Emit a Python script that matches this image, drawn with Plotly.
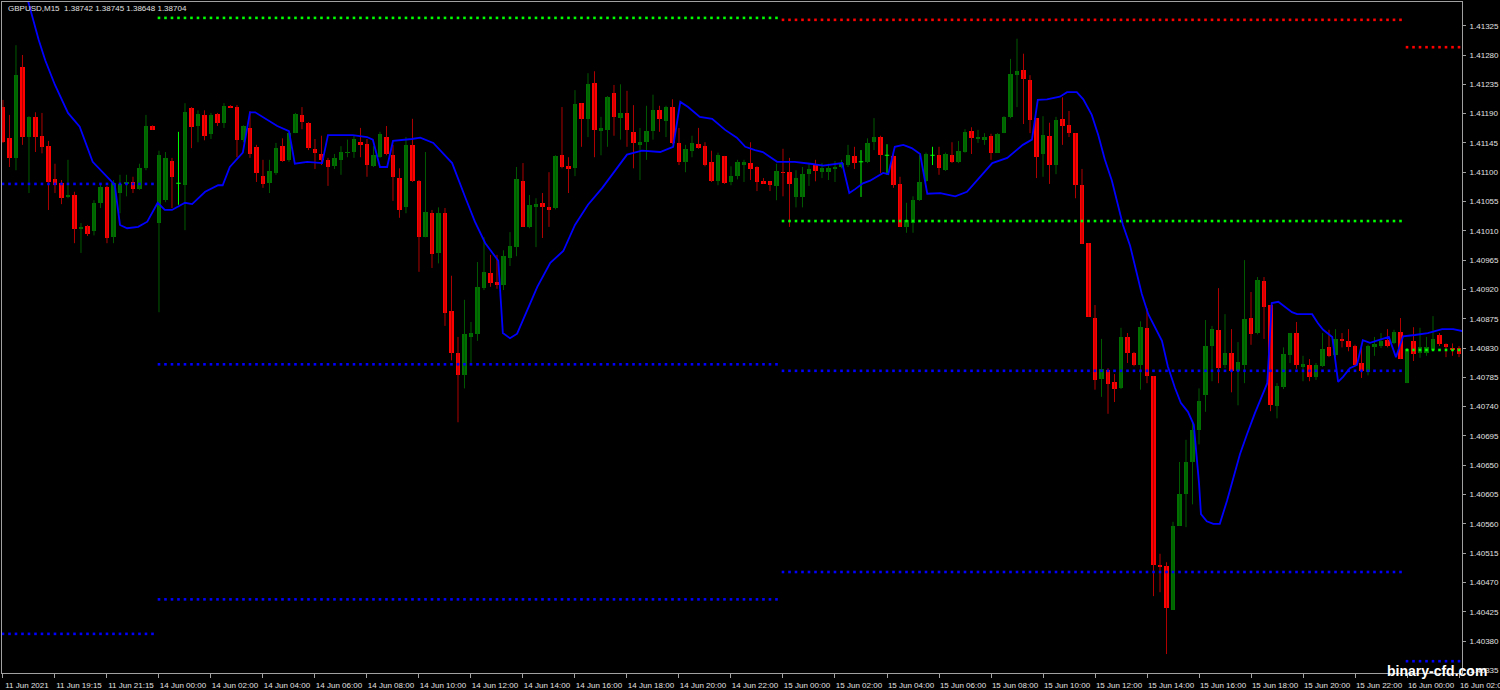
import plotly.graph_objects as go

# ---------------- data (GBPUSD M15) ----------------
open_ = [1.41200, 1.41152, 1.41122, 1.41262, 1.41154, 1.41185, 1.41156, 1.41140, 1.41089, 1.41083,
         1.41062, 1.41065, 1.41013, 1.41017, 1.41010, 1.41053, 1.41077, 1.41000, 1.41068, 1.41082,
         1.41085, 1.41074, 1.41106, 1.41171, 1.41022, 1.41057, 1.41117, 1.41083, 1.41080, 1.41199,
         1.41171, 1.41188, 1.41159, 1.41189, 1.41176, 1.41202, 1.41200, 1.41150, 1.41168, 1.41139,
         1.41094, 1.41083, 1.41099, 1.41140, 1.41119, 1.41160, 1.41188, 1.41176, 1.41136, 1.41128,
         1.41119, 1.41109, 1.41119, 1.41130, 1.41131, 1.41146, 1.41143, 1.41109, 1.41123, 1.41154,
         1.41126, 1.41091, 1.41046, 1.41142, 1.41086, 1.41000, 1.41037, 1.40976, 1.41037, 1.40887,
         1.40822, 1.40788, 1.40847, 1.40851, 1.40922, 1.40945, 1.40931, 1.40927, 1.40968, 1.40985,
         1.41086, 1.41016, 1.41048, 1.41053, 1.41046, 1.41045, 1.41126, 1.41109, 1.41106, 1.41206,
         1.41182, 1.41237, 1.41163, 1.41165, 1.41222, 1.41183, 1.41191, 1.41162, 1.41142, 1.41146,
         1.41163, 1.41196, 1.41179, 1.41200, 1.41145, 1.41116, 1.41133, 1.41143, 1.41140, 1.41116,
         1.41086, 1.41125, 1.41085, 1.41094, 1.41111, 1.41114, 1.41108, 1.41086, 1.41086, 1.41079,
         1.41100, 1.41100, 1.41062, 1.41062, 1.41097, 1.41111, 1.41100, 1.41100, 1.41105, 1.41108,
         1.41111, 1.41125, 1.41116, 1.41116, 1.41146, 1.41154, 1.41126, 1.41125, 1.41082, 1.41016,
         1.41022, 1.41057, 1.41086, 1.41126, 1.41126, 1.41103, 1.41126, 1.41116, 1.41131, 1.41163,
         1.41151, 1.41150, 1.41156, 1.41130, 1.41160, 1.41185, 1.41249, 1.41257, 1.41242, 1.41183,
         1.41128, 1.41156, 1.41111, 1.41182, 1.41172, 1.41160, 1.41080, 1.40991, 1.40876, 1.40782,
         1.40796, 1.40778, 1.40768, 1.40847, 1.40822, 1.40804, 1.40861, 1.40787, 1.40497, 1.40495,
         1.40428, 1.40557, 1.40606, 1.40655, 1.40704, 1.40758, 1.40833, 1.40858, 1.40804, 1.40822,
         1.40795, 1.40804, 1.40876, 1.40853, 1.40933, 1.40896, 1.40741, 1.40770, 1.40819, 1.40853,
         1.40802, 1.40804, 1.40785, 1.40802, 1.40831, 1.40819, 1.40844, 1.40841, 1.40833, 1.40807,
         1.40793, 1.40833, 1.40833, 1.40842, 1.40838, 1.40854, 1.40776, 1.40841, 1.40822, 1.40822,
         1.40827, 1.40850, 1.40836, 1.40830, 1.40830]

high_ = [1.41211, 1.41188, 1.41295, 1.41280, 1.41186, 1.41192, 1.41191, 1.41148, 1.41113, 1.41088,
         1.41119, 1.41070, 1.41022, 1.41019, 1.41057, 1.41083, 1.41079, 1.41088, 1.41096, 1.41096,
         1.41093, 1.41113, 1.41188, 1.41172, 1.41133, 1.41131, 1.41122, 1.41162, 1.41206, 1.41200,
         1.41195, 1.41195, 1.41191, 1.41191, 1.41206, 1.41203, 1.41203, 1.41172, 1.41194, 1.41142,
         1.41119, 1.41119, 1.41145, 1.41152, 1.41162, 1.41191, 1.41200, 1.41177, 1.41151, 1.41156,
         1.41122, 1.41128, 1.41140, 1.41150, 1.41157, 1.41168, 1.41151, 1.41140, 1.41162, 1.41171,
         1.41142, 1.41106, 1.41154, 1.41182, 1.41088, 1.41131, 1.41042, 1.41046, 1.41045, 1.40941,
         1.40847, 1.40904, 1.40870, 1.40962, 1.41000, 1.40973, 1.40973, 1.40980, 1.41008, 1.41108,
         1.41114, 1.41065, 1.41060, 1.41068, 1.41100, 1.41126, 1.41200, 1.41123, 1.41226, 1.41206,
         1.41252, 1.41255, 1.41185, 1.41217, 1.41234, 1.41235, 1.41225, 1.41203, 1.41168, 1.41202,
         1.41219, 1.41202, 1.41202, 1.41212, 1.41168, 1.41142, 1.41156, 1.41168, 1.41146, 1.41133,
         1.41130, 1.41125, 1.41109, 1.41119, 1.41119, 1.41146, 1.41109, 1.41091, 1.41086, 1.41113,
         1.41136, 1.41122, 1.41103, 1.41108, 1.41114, 1.41119, 1.41114, 1.41113, 1.41117, 1.41119,
         1.41142, 1.41139, 1.41134, 1.41152, 1.41183, 1.41156, 1.41143, 1.41131, 1.41093, 1.41053,
         1.41063, 1.41126, 1.41130, 1.41139, 1.41139, 1.41130, 1.41146, 1.41148, 1.41166, 1.41169,
         1.41165, 1.41160, 1.41159, 1.41160, 1.41186, 1.41274, 1.41305, 1.41282, 1.41249, 1.41183,
         1.41186, 1.41176, 1.41185, 1.41215, 1.41194, 1.41160, 1.41105, 1.40991, 1.40896, 1.40844,
         1.40799, 1.40790, 1.40861, 1.40853, 1.40824, 1.40871, 1.40891, 1.40787, 1.40514, 1.40501,
         1.40563, 1.40655, 1.40689, 1.40715, 1.40768, 1.40873, 1.40864, 1.40922, 1.40882, 1.40859,
         1.40839, 1.40965, 1.40916, 1.40939, 1.40939, 1.40896, 1.40776, 1.40831, 1.40853, 1.40870,
         1.40818, 1.40813, 1.40807, 1.40853, 1.40858, 1.40859, 1.40853, 1.40859, 1.40835, 1.40831,
         1.40835, 1.40847, 1.40853, 1.40859, 1.40858, 1.40876, 1.40830, 1.40862, 1.40861, 1.40847,
         1.40879, 1.40853, 1.40837, 1.40837, 1.40833]

low_ = [1.41145, 1.41108, 1.41103, 1.41142, 1.41068, 1.41131, 1.41129, 1.41042, 1.41068, 1.41051,
        1.41060, 1.40991, 1.40976, 1.41002, 1.41003, 1.41045, 1.40991, 1.40991, 1.41037, 1.41063,
        1.41068, 1.41073, 1.41103, 1.41165, 1.40885, 1.41054, 1.41045, 1.41050, 1.41011, 1.41137,
        1.41146, 1.41149, 1.41151, 1.41171, 1.41168, 1.41199, 1.41123, 1.41146, 1.41122, 1.41085,
        1.41076, 1.41068, 1.41096, 1.41116, 1.41116, 1.41160, 1.41166, 1.41134, 1.41105, 1.41111,
        1.41079, 1.41105, 1.41096, 1.41123, 1.41122, 1.41123, 1.41093, 1.41108, 1.41122, 1.41126,
        1.41056, 1.41030, 1.41037, 1.41085, 1.40947, 1.41000, 1.40953, 1.40960, 1.40864, 1.40811,
        1.40716, 1.40768, 1.40807, 1.40841, 1.40919, 1.40924, 1.40921, 1.40919, 1.40956, 1.40971,
        1.41016, 1.41014, 1.40985, 1.40999, 1.41016, 1.41043, 1.41106, 1.41068, 1.41094, 1.41139,
        1.41154, 1.41123, 1.41126, 1.41139, 1.41156, 1.41150, 1.41139, 1.41106, 1.41088, 1.41119,
        1.41150, 1.41162, 1.41154, 1.41143, 1.41111, 1.41100, 1.41123, 1.41136, 1.41109, 1.41085,
        1.41080, 1.41082, 1.41080, 1.41089, 1.41085, 1.41088, 1.41071, 1.41082, 1.41071, 1.41057,
        1.41063, 1.41016, 1.41046, 1.41046, 1.41079, 1.41086, 1.41091, 1.41088, 1.41085, 1.41106,
        1.41108, 1.41105, 1.41062, 1.41114, 1.41134, 1.41099, 1.41096, 1.41076, 1.41016, 1.41007,
        1.41007, 1.41056, 1.41085, 1.41111, 1.41096, 1.41102, 1.41114, 1.41114, 1.41130, 1.41128,
        1.41145, 1.41142, 1.41119, 1.41130, 1.41160, 1.41183, 1.41200, 1.41174, 1.41160, 1.41091,
        1.41093, 1.41082, 1.41097, 1.41142, 1.41154, 1.41060, 1.40990, 1.40878, 1.40766, 1.40755,
        1.40729, 1.40747, 1.40767, 1.40807, 1.40802, 1.40766, 1.40776, 1.40449, 1.40455, 1.40360,
        1.40428, 1.40557, 1.40555, 1.40590, 1.40682, 1.40732, 1.40779, 1.40776, 1.40799, 1.40762,
        1.40742, 1.40776, 1.40835, 1.40851, 1.40844, 1.40733, 1.40722, 1.40767, 1.40807, 1.40798,
        1.40779, 1.40779, 1.40781, 1.40801, 1.40816, 1.40816, 1.40831, 1.40825, 1.40804, 1.40784,
        1.40788, 1.40818, 1.40830, 1.40831, 1.40836, 1.40813, 1.40776, 1.40810, 1.40815, 1.40818,
        1.40827, 1.40833, 1.40816, 1.40818, 1.40816]

close_ = [1.41146, 1.41122, 1.41249, 1.41154, 1.41185, 1.41154, 1.41139, 1.41085, 1.41080, 1.41060,
          1.41065, 1.41013, 1.41016, 1.41005, 1.41053, 1.41077, 1.40999, 1.41083, 1.41082, 1.41085,
          1.41074, 1.41106, 1.41171, 1.41165, 1.41126, 1.41122, 1.41093, 1.41083, 1.41192, 1.41169,
          1.41189, 1.41156, 1.41188, 1.41176, 1.41202, 1.41200, 1.41150, 1.41171, 1.41128, 1.41099,
          1.41082, 1.41102, 1.41137, 1.41117, 1.41160, 1.41189, 1.41177, 1.41137, 1.41130, 1.41119,
          1.41108, 1.41122, 1.41131, 1.41131, 1.41151, 1.41142, 1.41111, 1.41126, 1.41159, 1.41128,
          1.41093, 1.41042, 1.41142, 1.41086, 1.41000, 1.41039, 1.40974, 1.41037, 1.40884, 1.40822,
          1.40788, 1.40851, 1.40853, 1.40924, 1.40947, 1.40930, 1.40927, 1.40971, 1.40987, 1.41089,
          1.41016, 1.41050, 1.41051, 1.41046, 1.41043, 1.41125, 1.41108, 1.41105, 1.41205, 1.41182,
          1.41235, 1.41165, 1.41168, 1.41215, 1.41185, 1.41191, 1.41165, 1.41145, 1.41146, 1.41163,
          1.41196, 1.41182, 1.41200, 1.41145, 1.41116, 1.41136, 1.41145, 1.41137, 1.41111, 1.41086,
          1.41126, 1.41083, 1.41094, 1.41116, 1.41116, 1.41105, 1.41085, 1.41083, 1.41080, 1.41102,
          1.41099, 1.41082, 1.41091, 1.41097, 1.41105, 1.41102, 1.41106, 1.41106, 1.41108, 1.41114,
          1.41126, 1.41114, 1.41116, 1.41145, 1.41154, 1.41126, 1.41126, 1.41080, 1.41016, 1.41027,
          1.41057, 1.41085, 1.41128, 1.41126, 1.41106, 1.41128, 1.41116, 1.41133, 1.41162, 1.41152,
          1.41154, 1.41154, 1.41130, 1.41159, 1.41185, 1.41251, 1.41255, 1.41243, 1.41180, 1.41123,
          1.41157, 1.41111, 1.41180, 1.41171, 1.41160, 1.41080, 1.40990, 1.40878, 1.40781, 1.40798,
          1.40775, 1.40767, 1.40847, 1.40822, 1.40804, 1.40862, 1.40787, 1.40497, 1.40494, 1.40431,
          1.40557, 1.40606, 1.40655, 1.40704, 1.40749, 1.40833, 1.40859, 1.40799, 1.40822, 1.40795,
          1.40808, 1.40874, 1.40851, 1.40934, 1.40893, 1.40742, 1.40772, 1.40821, 1.40853, 1.40804,
          1.40805, 1.40785, 1.40804, 1.40828, 1.40818, 1.40844, 1.40841, 1.40831, 1.40804, 1.40795,
          1.40833, 1.40836, 1.40841, 1.40833, 1.40854, 1.40813, 1.40828, 1.40821, 1.40831, 1.40831,
          1.40844, 1.40836, 1.40831, 1.40827, 1.40821]

# blue indicator line (bar position, price)
ma_bar = [3.0, 3.8, 5.5, 6.5, 8.0, 10.0, 11.8, 13.8, 16.5, 17.2,
          18.0, 19.1, 20.8, 22.2, 23.8, 24.9, 26.0, 28.0, 29.1, 31.1,
          33.1, 33.8, 34.9, 36.9, 38.0, 38.8, 42.2, 44.0, 44.9, 46.8,
          49.1, 50.0, 53.8, 56.0, 56.9, 58.0, 59.1, 60.0, 62.9, 64.2,
          66.2, 67.2, 69.1, 71.1, 72.6, 74.2, 76.2, 76.9, 78.0, 79.1,
          80.6, 82.2, 84.2, 86.2, 88.0, 90.0, 92.2, 96.0, 98.3, 101.1,
          103.1, 104.2, 105.4, 107.2, 109.1, 111.1, 112.9, 114.2, 115.7, 116.9,
          119.1, 121.8, 124.2, 126.2, 129.1, 130.2, 131.1, 132.3, 133.4, 135.4,
          136.2, 137.2, 138.5, 139.8, 141.1, 142.2, 144.2, 146.5, 148.3, 150.3,
          152.2, 154.5, 156.9, 158.3, 159.2, 160.6, 162.6, 163.7, 165.2, 166.2,
          167.5, 168.5, 169.5, 170.6, 171.4, 172.3, 173.4, 174.2, 175.2, 176.2,
          178.3, 179.2, 180.3, 181.2, 182.3, 183.2, 183.7, 184.0, 184.3, 185.2,
          186.2, 187.2, 188.3, 189.2, 190.3, 191.4, 192.6, 194.5, 195.2, 196.2,
          197.2, 198.3, 199.1, 201.4, 202.3, 203.1, 204.5, 205.4, 206.2, 207.2,
          208.3, 209.2, 210.3, 212.3, 213.2, 214.3, 215.4, 217.2, 219.2, 221.4,
          223.1, 224.5]
ma_val = [1.41400, 1.41365, 1.41303, 1.41272, 1.41234, 1.41191, 1.41170, 1.41116, 1.41088, 1.41080,
          1.41019, 1.41014, 1.41016, 1.41024, 1.41053, 1.41042, 1.41042, 1.41053, 1.41051, 1.41070,
          1.41080, 1.41080, 1.41108, 1.41130, 1.41192, 1.41192, 1.41171, 1.41163, 1.41113, 1.41116,
          1.41114, 1.41157, 1.41157, 1.41154, 1.41150, 1.41108, 1.41108, 1.41148, 1.41151, 1.41153,
          1.41145, 1.41134, 1.41114, 1.41062, 1.41024, 1.40991, 1.40964, 1.40853, 1.40845, 1.40852,
          1.40888, 1.40924, 1.40961, 1.40979, 1.41019, 1.41050, 1.41076, 1.41127, 1.41133, 1.41131,
          1.41139, 1.41208, 1.41200, 1.41185, 1.41182, 1.41165, 1.41153, 1.41139, 1.41134, 1.41131,
          1.41116, 1.41116, 1.41113, 1.41110, 1.41114, 1.41068, 1.41074, 1.41083, 1.41087, 1.41099,
          1.41097, 1.41139, 1.41142, 1.41137, 1.41128, 1.41067, 1.41068, 1.41063, 1.41070, 1.41093,
          1.41114, 1.41122, 1.41142, 1.41150, 1.41211, 1.41212, 1.41216, 1.41223, 1.41223, 1.41212,
          1.41188, 1.41157, 1.41120, 1.41087, 1.41056, 1.41019, 1.40987, 1.40953, 1.40913, 1.40882,
          1.40841, 1.40802, 1.40769, 1.40746, 1.40732, 1.40712, 1.40663, 1.40623, 1.40575, 1.40564,
          1.40560, 1.40560, 1.40595, 1.40629, 1.40667, 1.40698, 1.40730, 1.40776, 1.40899, 1.40901,
          1.40893, 1.40885, 1.40882, 1.40882, 1.40868, 1.40858, 1.40847, 1.40778, 1.40786, 1.40799,
          1.40804, 1.40842, 1.40838, 1.40844, 1.40847, 1.40816, 1.40848, 1.40850, 1.40853, 1.40859,
          1.40859, 1.40856]

# daily levels (dotted)
day_first_bar = [0, 24, 120, 216]
day_last_bar = [23, 119, 215, 224]
level_red = [None, None, 1.41334, 1.41292]
level_green = [None, 1.41337, 1.41025, 1.40827]
level_blue_hi = [1.41082, 1.40805, 1.40795, None]
level_blue_lo = [1.40391, 1.40444, 1.40486, 1.40349]

x_tick_bars = [0, 8, 16, 24, 32, 40, 48, 56, 64, 72, 80, 88, 96, 104, 112,
               120, 128, 136, 144, 152, 160, 168, 176, 184, 192, 200, 208, 216, 224]
x_tick_labels = ["11 Jun 2021", "11 Jun 19:15", "11 Jun 21:15", "14 Jun 00:00", "14 Jun 02:00",
                 "14 Jun 04:00", "14 Jun 06:00", "14 Jun 08:00", "14 Jun 10:00", "14 Jun 12:00",
                 "14 Jun 14:00", "14 Jun 16:00", "14 Jun 18:00", "14 Jun 20:00", "14 Jun 22:00",
                 "15 Jun 00:00", "15 Jun 02:00", "15 Jun 04:00", "15 Jun 06:00", "15 Jun 08:00",
                 "15 Jun 10:00", "15 Jun 12:00", "15 Jun 14:00", "15 Jun 16:00", "15 Jun 18:00",
                 "15 Jun 20:00", "15 Jun 22:00", "16 Jun 00:00", "16 Jun 02:00"]
y_ticks = [1.41325, 1.41280, 1.41235, 1.41190, 1.41145, 1.41100, 1.41055, 1.41010, 1.40965,
           1.40920, 1.40875, 1.40830, 1.40785, 1.40740, 1.40695, 1.40650, 1.40605, 1.40560,
           1.40515, 1.40470, 1.40425, 1.40380, 1.40335]

title_text = "GBPUSD,M15  1.38742 1.38745 1.38648 1.38704"
watermark = "binary-cfd.com"

# ---------------- styles ----------------
BG = "#000000"
AXIS = "#a0a0a0"
TXT = "#e0e0e0"
BULL_BODY = "#007000"
BULL_WICK = "#005a00"
BEAR_BODY = "#ff0000"
BEAR_WICK = "#b00000"
DOJI = "#00ff00"
FONT = "Liberation Sans"

bars = list(range(len(open_)))
bull = [i for i in bars if close_[i] > open_[i]]
bear = [i for i in bars if close_[i] < open_[i]]
doji = [i for i in bars if close_[i] == open_[i]]


def wick_xy(idx):
    xs, ys = [], []
    for i in idx:
        xs += [i, i, None]
        ys += [low_[i], high_[i], None]
    return xs, ys


fig = go.Figure()
for idx, col in ((bull, BULL_WICK), (bear, BEAR_WICK), (doji, DOJI)):
    wx, wy = wick_xy(idx)
    fig.add_trace(go.Scatter(x=wx, y=wy, mode="lines", line=dict(color=col, width=1),
                             hoverinfo="skip"))

for idx, col in ((bull, BULL_BODY), (bear, BEAR_BODY)):
    fig.add_trace(go.Bar(
        x=idx,
        y=[abs(close_[i] - open_[i]) for i in idx],
        base=[min(open_[i], close_[i]) for i in idx],
        width=0.68, marker=dict(color=col, line=dict(width=0)),
        hoverinfo="skip"))

# doji horizontal ticks
dx, dy = [], []
for i in doji:
    dx += [i - 0.34, i + 0.34, None]
    dy += [open_[i], open_[i], None]
fig.add_trace(go.Scatter(x=dx, y=dy, mode="lines", line=dict(color=DOJI, width=1), hoverinfo="skip"))

# dotted daily levels
for levels, col in ((level_red, "#ff0000"), (level_green, "#00ff00"),
                    (level_blue_hi, "#0000ff"), (level_blue_lo, "#0000ff")):
    lx, ly = [], []
    for d in range(len(day_first_bar)):
        v = levels[d]
        if v is None:
            continue
        for b in range(day_first_bar[d], day_last_bar[d] + 1):
            lx.append(b)
            ly.append(v)
    fig.add_trace(go.Scatter(x=lx, y=ly, mode="markers",
                             marker=dict(symbol="square", size=2.6, color=col, line=dict(width=0)),
                             hoverinfo="skip"))

fig.add_trace(go.Scatter(x=ma_bar, y=ma_val, mode="lines",
                         line=dict(color="#0000ff", width=1.8), hoverinfo="skip"))

fig.update_layout(
    width=1500, height=690,
    paper_bgcolor=BG, plot_bgcolor=BG,
    margin=dict(l=2, r=38, t=2, b=17, autoexpand=False),
    showlegend=False, barmode="overlay", bargap=0,
    font=dict(family=FONT, size=8, color=TXT),
)
fig.update_xaxes(
    range=[-0.15, 224.46], showgrid=False, zeroline=False,
    showline=True, linecolor=AXIS, linewidth=1, mirror=True,
    ticks="outside", ticklen=4, tickcolor=AXIS, tickwidth=1,
    tickvals=x_tick_bars, ticktext=x_tick_labels,
    tickfont=dict(family=FONT, size=8, color=TXT),
    ticklabelshift=24, ticklabelstandoff=0, automargin=False,
    ticklabeloverflow="allow",
)
fig.update_yaxes(
    side="right", range=[1.403309, 1.413614], showgrid=False, zeroline=False,
    showline=True, linecolor=AXIS, linewidth=1, mirror=True,
    ticks="outside", ticklen=3, tickcolor=AXIS, tickwidth=1,
    tickvals=y_ticks, ticktext=[f"{v:.5f}" for v in y_ticks],
    tickfont=dict(family=FONT, size=8, color=TXT), ticklabelstandoff=2, automargin=False,
    ticklabeloverflow="allow",
)
fig.add_annotation(text=title_text, xref="paper", yref="paper", x=0.0027, y=0.991,
                   xanchor="left", yanchor="middle", showarrow=False,
                   font=dict(family=FONT, size=8, color=TXT))
fig.add_annotation(text="<b>" + watermark + "</b>", xref="paper", yref="paper",
                   x=0.9832, y=0.003, xanchor="center", yanchor="middle", showarrow=False,
                   font=dict(family=FONT, size=14, color="#ffffff"))

fig.write_html("out.html", config={"displayModeBar": False},
               post_script="document.body.style.margin='0px';document.body.style.padding='0px';"
                           "document.body.style.overflow='hidden';window.dispatchEvent(new Event('resize'));")
